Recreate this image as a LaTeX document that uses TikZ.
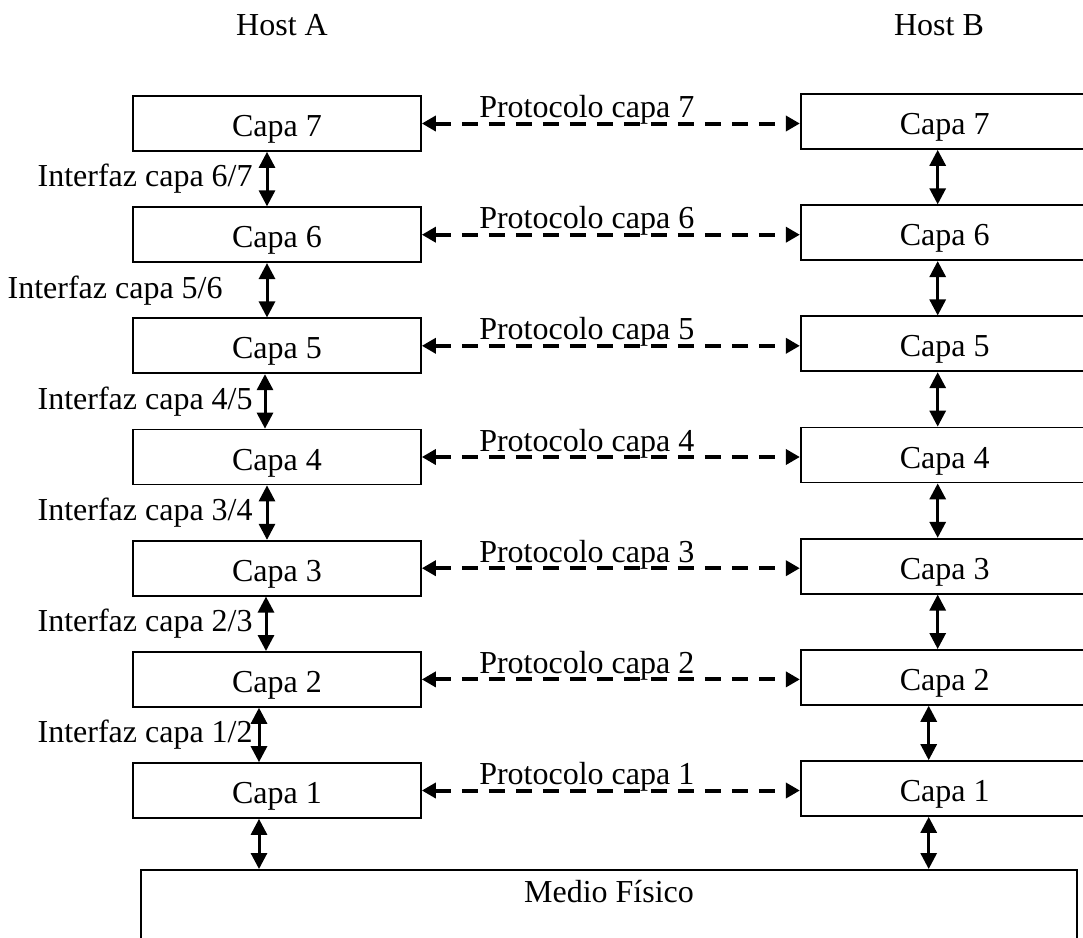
\documentclass[tikz,border=0pt]{standalone}
\usepackage{fontspec}
\setmainfont{Liberation Serif}
\usetikzlibrary{arrows.meta,positioning}

\begin{document}
\begin{tikzpicture}[
    x=0.5pt, y=-0.5pt,
    every node/.style={font=\fontsize{16}{19}\selectfont},
    capa/.style={
        draw,
        line width=0.85pt,
        minimum width=144pt,
        minimum height=27.5pt,
        inner sep=0pt,
        text height=13pt,
        text depth=0pt
    },
    iface/.style={{Triangle[length=8pt,width=8pt]}-{Triangle[length=8pt,width=8pt]},
        line width=1.5pt},
    proto/.style={{Triangle[length=7pt,width=7.5pt]}-{Triangle[length=7pt,width=7.5pt]},
        line width=2pt, dash pattern=on 8pt off 5.5pt}
]
\useasboundingbox (0,0) rectangle (1083,938);

% Hosts
\node (hostA) at (282,25) {Host A};
\node (hostB) at (939,25) {Host B};

% Layers and peer protocols
\foreach \k/\y in {7/123.5,6/234.7,5/345.8,4/457.0,3/568.2,2/679.4,1/790.5}{
    \node[capa] (a\k) at (277,\y) {Capa \k};
    \node[capa, right=189pt of a\k, yshift=1pt] (b\k) {Capa \k};
    \draw[proto] (a\k.east) -- (a\k.east -| b\k.west);
    \node[anchor=base west, inner sep=0pt] (p\k) at ([xshift=28.5pt,yshift=3pt]a\k.east)
        {Protocolo capa \k};
}

% Interfaces between layers
\foreach \lo/\hi/\dx/\dy/\lx/\ly in {6/7/-5/-3.5/253/179.1, 5/6/-5/-3.5/223/290.3,
        4/5/-6/-3.5/253/401.4, 3/4/-5/-3.5/253/512.6, 2/3/-5.5/-3.5/253/623.8,
        1/2/-9/-8/253/735.0}{
    \draw[iface] ([xshift=\dx pt]a\hi.south) -- ([xshift=\dx pt]a\lo.north);
    \draw[iface] ([xshift=\dy pt]b\hi.south) -- ([xshift=\dy pt]b\lo.north);
    \node[anchor=east, inner sep=0pt] (i\lo) at (\lx,\ly) {Interfaz capa \lo/\hi};
}

% Physical medium
\node[draw, line width=0.85pt, minimum width=468pt, minimum height=60pt,
    anchor=north, inner sep=0pt] (medio) at (609,869) {};
\node (medioText) at (609,892) {Medio Físico};
\draw[iface] ([xshift=-9pt]a1.south) -- ([xshift=-9pt]a1.south |- medio.north);
\draw[iface] ([xshift=-8pt]b1.south) -- ([xshift=-8pt]b1.south |- medio.north);

\end{tikzpicture}
\end{document}
